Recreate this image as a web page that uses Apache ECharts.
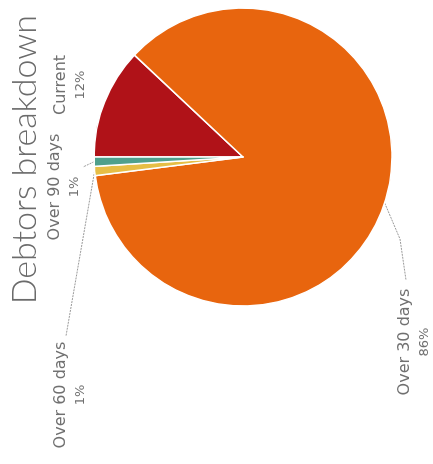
<!DOCTYPE html>
<html>
<head>
<meta charset="utf-8">
<script src="https://cdn.jsdelivr.net/npm/echarts@6/dist/echarts.min.js"></script>
<style>
html,body{margin:0;padding:0;background:#fff;overflow:hidden;}
#wrap{position:absolute;left:0;top:0;width:433px;height:464px;overflow:hidden;}
#chart{position:absolute;left:0;top:0;width:464px;height:433px;transform-origin:0 0;transform:translate(0,464px) rotate(-90deg);}
</style>
</head>
<body>
<div id="wrap"><div id="chart"></div></div>
<script>
const titleText = 'Debtors breakdown';
const categories = ['Current', 'Over 30 days', 'Over 60 days', 'Over 90 days'];
const percentValues = [12, 86, 1, 1];
const sliceColors = ['#B01218', '#E8650E', '#E6BE46', '#4FA08C'];

// label placement (style only, in the unrotated chart frame)
const labelPos = [
  {x: 379, y: 70, line: false},
  {x: 122, y: 414, line: true, end: [184, 406], mid: [225, 400]},
  {x: 69, y: 70, line: true, end: [128, 66]},
  {x: 277, y: 64, line: true, end: [297, 83]}
];

const chart = echarts.init(document.getElementById('chart'), null, {renderer: 'canvas'});
const data = categories.map((c, i) => ({
  name: c,
  value: percentValues[i],
  itemStyle: {color: sliceColors[i]},
  labelLine: {show: labelPos[i].line}
}));

chart.setOption({
  backgroundColor: '#fff',
  animation: false,
  title: {
    text: titleText,
    right: 10,
    top: 3,
    textStyle: {fontFamily: 'Lato', fontWeight: 300, fontSize: 34, color: '#6b6b6b'}
  },
  series: [{
    type: 'pie',
    center: [307, 243],
    radius: 149,
    startAngle: 90,
    clockwise: true,
    data: data,
    itemStyle: {borderColor: '#ffffff', borderWidth: 1.5},
    label: {
      show: true,
      position: 'outside',
      formatter: p => '{a|' + p.name + '}\n{b|' + p.value + '%}',
      rich: {
        a: {fontFamily: 'DejaVu Sans', fontSize: 16, color: '#707070', lineHeight: 22, align: 'center'},
        b: {fontFamily: 'DejaVu Sans', fontSize: 13, color: '#707070', lineHeight: 19, align: 'center'}
      }
    },
    labelLine: {
      show: true,
      length: 10,
      length2: 10,
      lineStyle: {color: '#9a9a9a', width: 1, type: [2, 1]}
    },
    labelLayout: function (params) {
      const lp = labelPos[params.dataIndex];
      const out = {x: lp.x, y: lp.y, align: 'center', verticalAlign: 'middle'};
      if (lp.line && params.labelLinePoints) {
        const start = params.labelLinePoints[0];
        const pts = [start];
        if (lp.mid) pts.push(lp.mid);
        pts.push(lp.end);
        if (!lp.mid) pts.splice(1, 0, [(start[0] + lp.end[0]) / 2, (start[1] + lp.end[1]) / 2]);
        out.labelLinePoints = pts;
      }
      return out;
    }
  }]
});
</script>
</body>
</html>
